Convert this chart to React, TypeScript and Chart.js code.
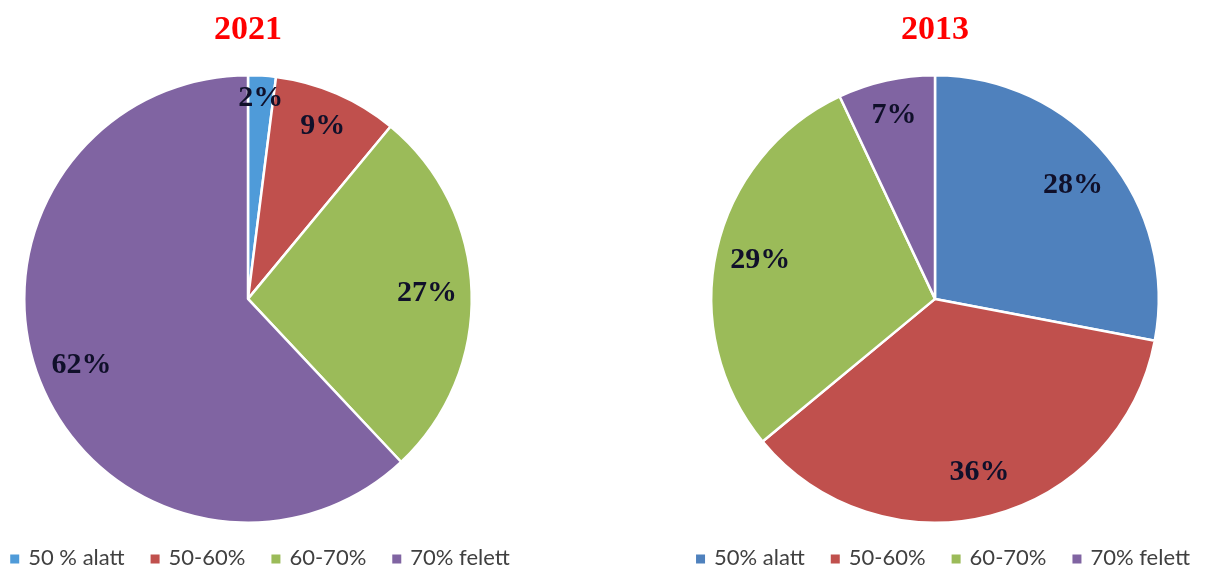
import React, { useEffect, useRef } from "react";
import { Chart, registerables } from "chart.js";

Chart.register(...registerables);

const categories2021 = ["50 % alatt", "50-60%", "60-70%", "70% felett"];
const values2021 = [2, 9, 27, 62];
const categories2013 = ["50% alatt", "50-60%", "60-70%", "70% felett"];
const values2013 = [28, 36, 29, 7];

const colors2021 = ["#4F9BD9", "#C0504D", "#9BBB59", "#8064A2"];
const colors2013 = ["#4F81BD", "#C0504D", "#9BBB59", "#8064A2"];

const labelPlugin = {
  id: "sliceLabels",
  afterDatasetsDraw(chart: any) {
    const ctx = chart.ctx;
    const meta = chart.getDatasetMeta(0);
    const data = chart.data.datasets[0].data as number[];
    ctx.save();
    ctx.font = "bold 30px 'Liberation Serif', 'Times New Roman', serif";
    ctx.fillStyle = "#10102a";
    ctx.textAlign = "center";
    ctx.textBaseline = "middle";
    meta.data.forEach((arc: any, i: number) => {
      const p = arc.getProps(["x", "y", "startAngle", "endAngle", "outerRadius"], true);
      const mid = (p.startAngle + p.endAngle) / 2;
      const frac = data[i] < 5 ? 0.9 : data[i] < 10 ? 0.84 : 0.8;
      const r = p.outerRadius * frac;
      ctx.fillText(data[i] + "%", p.x + Math.cos(mid) * r, p.y + Math.sin(mid) * r);
    });
    ctx.restore();
  },
};

const customLegend = {
  id: "customLegend",
  afterDraw(chart: any) {
    const ctx = chart.ctx;
    const labels = chart.data.labels as string[];
    const colors = chart.data.datasets[0].backgroundColor as string[];
    const box = 9;
    const boxGap = 9;
    const itemGap = 26;
    ctx.save();
    ctx.font = "22px Lato, 'Noto Sans', sans-serif";
    const widths = labels.map((l) => box + boxGap + ctx.measureText(l).width);
    const total = widths.reduce((a, b) => a + b, 0) + itemGap * (labels.length - 1);
    let x = (chart.width - total) / 2;
    const y = chart.height - 15;
    ctx.textBaseline = "middle";
    ctx.textAlign = "left";
    labels.forEach((l, i) => {
      ctx.fillStyle = colors[i];
      ctx.fillRect(x, y - box / 2 + 1, box, box);
      ctx.fillStyle = "#404040";
      ctx.fillText(l, x + box + boxGap, y);
      x += widths[i] + itemGap;
    });
    ctx.restore();
  },
};

function PieChart({ title, labels, values, colors, width, padLeft, padRight }: { title: string; labels: string[]; values: number[]; colors: string[]; width: number; padLeft: number; padRight: number }) {
  const ref = useRef<HTMLCanvasElement | null>(null);
  useEffect(() => {
    if (!ref.current) return;
    const chart = new Chart(ref.current, {
      type: "pie",
      data: {
        labels,
        datasets: [
          {
            data: values,
            backgroundColor: colors,
            borderColor: "#ffffff",
            borderWidth: 2.5,
            hoverOffset: 0,
            offset: 0,
          },
        ],
      },
      options: {
        animation: false,
        responsive: false,
        maintainAspectRatio: false,
        layout: { padding: { left: padLeft, right: padRight, top: 0, bottom: 49 } },
        plugins: {
          title: {
            display: true,
            text: title,
            color: "#FF0000",
            font: { family: "'Liberation Serif', 'Times New Roman', serif", size: 34, weight: "bold" },
            padding: { top: 10, bottom: 23 },
          },
          legend: { display: false },
          tooltip: { enabled: false },
        },
      },
      plugins: [labelPlugin, customLegend],
    });
    return () => chart.destroy();
  }, []);
  return <canvas ref={ref} width={width} height={573} style={{ display: "block", width, height: 573 }} />;
}

export default function App() {
  return (
    <div style={{ position: "absolute", left: 0, top: 0, width: 1206, height: 573, background: "#fff", overflow: "hidden" }}>
      <div style={{ position: "absolute", left: 0, top: 0 }}>
        <PieChart title="2021" labels={categories2021} values={values2021} colors={colors2021} width={520} padLeft={23} padRight={47} />
      </div>
      <div style={{ position: "absolute", left: 680, top: 0 }}>
        <PieChart title="2013" labels={categories2013} values={values2013} colors={colors2013} width={526} padLeft={30} padRight={46} />
      </div>
    </div>
  );
}
